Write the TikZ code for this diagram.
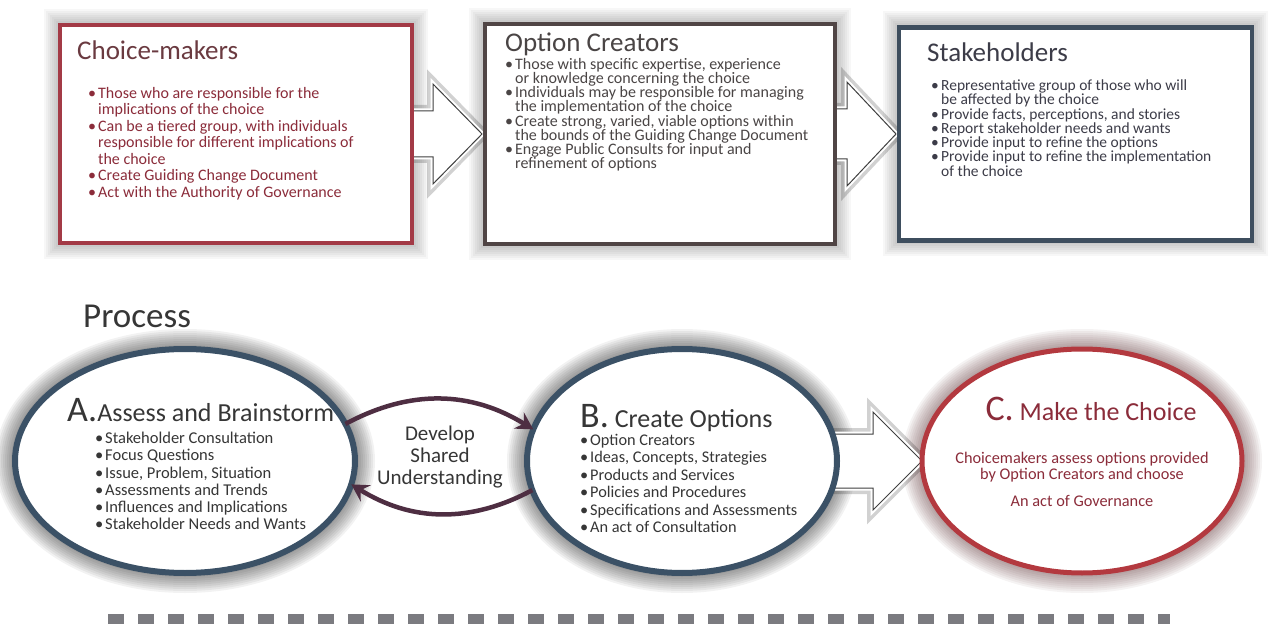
\documentclass[tikz,border=0pt]{standalone}
\usepackage{fontspec}
\setmainfont{Carlito}
\usetikzlibrary{positioning,shapes.geometric,arrows.meta,backgrounds}

\definecolor{makerred}{HTML}{A33A46}
\definecolor{makertext}{HTML}{8B2C3A}
\definecolor{makertitle}{HTML}{6A3A40}
\definecolor{creatorline}{HTML}{504545}
\definecolor{creatortext}{HTML}{4A4545}
\definecolor{holderline}{HTML}{3E4E5E}
\definecolor{holdertext}{HTML}{3C3C48}
\definecolor{phaseline}{HTML}{3B5166}
\definecolor{choiceline}{HTML}{B3393F}
\definecolor{loopcol}{HTML}{4E2E42}
\definecolor{inkgray}{HTML}{363636}
\definecolor{dashgray}{HTML}{7B7B80}

\newcommand{\bul}{\makebox[10pt][l]{\textbullet}}
\newcommand{\cont}{\hspace*{10pt}}

\begin{document}
\begin{tikzpicture}[x=1pt,y=-1pt,
    card/.style={rectangle, draw, line width=4.5pt, fill=white, inner sep=0pt, outer sep=0pt},
    phase/.style={ellipse, draw, line width=6pt, fill=white, inner sep=0pt, outer sep=0pt},
    cardtitle/.style={inner sep=0pt, font=\fontsize{27}{27}\selectfont},
    cardlist/.style={inner sep=0pt, anchor=north west, align=left},
    phasetitle/.style={inner sep=0pt, anchor=base west, font=\fontsize{26}{26}\selectfont},
    blockarrow/.style={fill=white, draw=black!75, line width=1pt,
        preaction={draw=black, opacity=.18, line width=12pt},
        preaction={draw=white, line width=5pt}},
    sharedloop/.style={draw=loopcol, line width=4.5pt, -{Stealth[length=17pt,width=19pt,inset=6pt]}},
    sepline/.style={draw=dashgray, line width=10pt, dash pattern=on 16pt off 14pt}]
\useasboundingbox (0,0) rectangle (1270,639);

% who is involved
\node[card, draw=makerred, minimum width=352pt, minimum height=218pt] (makers) at (236,134) {};
\node[card, draw=creatorline, minimum width=350pt, minimum height=220pt] (creators) [right=73pt of makers] {};
\node[card, draw=holderline, minimum width=353pt, minimum height=213pt] (holders) [right=64pt of creators] {};

\node[cardtitle, text=makertitle] (makers_t) [below right=35pt and 17pt of makers.north west, anchor=base west] {Choice-makers};
\node[cardlist, text=makertext, font=\fontsize{16}{16.5}\selectfont] (makers_l) [below right=62pt and 28pt of makers.north west, anchor=north west] {%
  \bul Those who are responsible for the\\
  \cont implications of the choice\\
  \bul Can be a tiered group, with individuals\\
  \cont responsible for different implications of\\
  \cont the choice\\
  \bul Create Guiding Change Document\\
  \bul Act with the Authority of Governance};

\node[cardtitle, text=creatortext] (creators_t) [below right=28pt and 20pt of creators.north west, anchor=base west] {Option Creators};
\node[cardlist, text=creatortext, font=\fontsize{16}{14.2}\selectfont] (creators_l) [below right=34pt and 20pt of creators.north west, anchor=north west] {%
  \bul Those with specific expertise, experience\\
  \cont or knowledge concerning the choice\\
  \bul Individuals may be responsible for managing\\
  \cont the implementation of the choice\\
  \bul Create strong, varied, viable options within\\
  \cont the bounds of the Guiding Change Document\\
  \bul Engage Public Consults for input and\\
  \cont refinement of options};

\node[cardtitle, text=holdertext] (holders_t) [below right=34pt and 28pt of holders.north west, anchor=base west] {Stakeholders};
\node[cardlist, text=holdertext, font=\fontsize{15.5}{13.2}\selectfont] (holders_l) [below right=52pt and 32pt of holders.north west, anchor=north west] {%
  \bul Representative group of those who will\\
  \cont be affected by the choice\\
  \bul Provide facts, perceptions, and stories\\
  \bul Report stakeholder needs and wants\\
  \bul Provide input to refine the options\\
  \bul Provide input to refine the implementation\\
  \cont of the choice};

% process
\node[inner sep=0pt, anchor=base west, text=inkgray, font=\fontsize{35}{35}\selectfont] (process) at (83,327) {Process};

\node[phase, draw=phaseline, minimum width=340pt, minimum height=224pt] (assess) at (185,461) {};
\node[phase, draw=phaseline, minimum width=310pt, minimum height=224pt] (create) [right=172pt of assess] {};
\node[phase, draw=choiceline, line width=5pt, minimum width=320pt, minimum height=224pt] (choose) [right=85pt of create] {};

\node[phasetitle, text=inkgray] (assess_t) at (67,421) {{\fontsize{36}{36}\selectfont A.}Assess and Brainstorm};
\node[cardlist, text=inkgray, font=\fontsize{16.5}{17.2}\selectfont] (assess_l) at (95,432) {%
  \bul Stakeholder Consultation\\
  \bul Focus Questions\\
  \bul Issue, Problem, Situation\\
  \bul Assessments and Trends\\
  \bul Influences and Implications\\
  \bul Stakeholder Needs and Wants};

\node[phasetitle, text=inkgray] (create_t) at (580,427) {{\fontsize{36}{36}\selectfont B.} Create Options};
\node[cardlist, text=inkgray, font=\fontsize{16.3}{17.4}\selectfont] (create_l) at (580,434) {%
  \bul Option Creators\\
  \bul Ideas, Concepts, Strategies\\
  \bul Products and Services\\
  \bul Policies and Procedures\\
  \bul Specifications and Assessments\\
  \bul An act of Consultation};

\node[phasetitle, anchor=base, text=makertext] (choose_t) at (1091,420) {{\fontsize{36}{36}\selectfont C.} Make the Choice};
\node[inner sep=0pt, align=center, text=makertext, font=\fontsize{16.3}{16.5}\selectfont] (choose_l) at (1082,479) {%
  Choicemakers assess options provided\\
  by Option Creators and choose\\[10pt]
  An act of Governance};

\node[inner sep=0pt, align=center, text=inkgray, font=\fontsize{21}{22}\selectfont] (shared) at (440,457) {Develop\\Shared\\Understanding};

\draw[sharedloop] (assess.13) to[bend left=30] (create.168);
\draw[sharedloop] (create.191) to[bend left=30] (assess.-8);

% soft shadows and block arrows behind the shapes
\begin{scope}[on background layer]
  \fill[white] (0,0) rectangle (1270,639);
  \foreach \n in {makers,creators,holders}
    \foreach \i in {1,...,8}
      \draw[black, opacity=.03, line width=4*\i pt] (\n.north west) rectangle (\n.south east);
  \foreach \n/\rx/\c in {assess/170/black, create/155/black, choose/160/choiceline!40!black}
    \foreach \i in {1,...,10}
      \draw[\c, opacity=.05, line width=4*\i pt] (\n.center) ellipse [x radius=\rx pt, y radius=112pt];
  \draw[blockarrow] (makers.east) ++(-4,-23) -- ++(25,0) -- ++(0,-27) -- ++(49,50) -- ++(-49,50) -- ++(0,-27) -- ++(-25,0) -- cycle;
  \draw[blockarrow] (creators.east) ++(-4,-25) -- ++(16,0) -- ++(0,-27) -- ++(49,52) -- ++(-49,52) -- ++(0,-27) -- ++(-16,0) -- cycle;
  \draw[blockarrow] (create.east) ++(-4,-27) -- ++(40,0) -- ++(0,-22) -- ++(49,49) -- ++(-49,49) -- ++(0,-22) -- ++(-40,0) -- cycle;
\end{scope}

\draw[sepline] (108,619) -- (1170,619);
\end{tikzpicture}
\end{document}
